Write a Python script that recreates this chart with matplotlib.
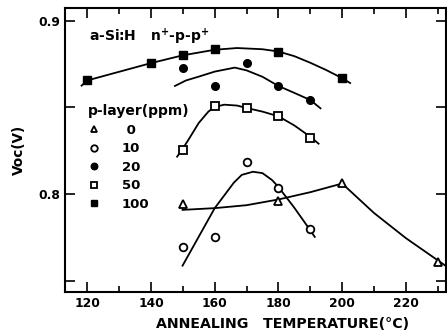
import matplotlib.pyplot as plt
from matplotlib.ticker import MultipleLocator

plt.rcParams["font.family"] = "DejaVu Sans"
plt.rcParams["font.weight"] = "bold"

# measured points, by p-layer doping (ppm)
t_0 = [150, 180, 200, 230]
v_0 = [0.7942, 0.7960, 0.8062, 0.7610]
t_10 = [150, 160, 170, 180, 190]
v_10 = [0.7696, 0.7750, 0.8183, 0.8037, 0.7796]
t_20 = [150, 160, 170, 180, 190]
v_20 = [0.8729, 0.8623, 0.8754, 0.8623, 0.8542]
t_50 = [150, 160, 170, 180, 190]
v_50 = [0.8254, 0.8508, 0.8494, 0.8450, 0.8321]
t_100 = [120, 140, 150, 160, 180, 200]
v_100 = [0.8658, 0.8758, 0.8800, 0.8835, 0.8821, 0.8671]

# hand-drawn guide curves
ct_0 = [149.9, 160, 170, 180, 190, 200, 210, 220, 232.5]
cv_0 = [0.7908, 0.7918, 0.7935, 0.7968, 0.8010, 0.8060, 0.7890, 0.7745, 0.7585]
ct_10 = [149.9, 160, 166, 168.5, 172, 175, 178, 180, 185, 190, 191.4]
cv_10 = [0.7586, 0.7918, 0.8065, 0.8110, 0.8128, 0.8120, 0.8080, 0.8040, 0.7920, 0.7790, 0.7752]
ct_20 = [147.5, 151, 155, 160, 166.3, 170, 175, 180, 185, 190, 193.2]
cv_20 = [0.8623, 0.8655, 0.8677, 0.8706, 0.8729, 0.8713, 0.8676, 0.8623, 0.8583, 0.8542, 0.8494]
ct_50 = [148.2, 150, 152, 155, 158, 160, 163, 167, 170, 175, 180, 185, 190, 192.6]
cv_50 = [0.8215, 0.8262, 0.8320, 0.8410, 0.8475, 0.8502, 0.8515, 0.8510, 0.8496, 0.8475, 0.8448, 0.8395, 0.8330, 0.8290]
ct_100 = [118.2, 120, 130, 140, 150, 160, 167, 175, 180, 185, 190, 195, 200, 202.5]
cv_100 = [0.8625, 0.8655, 0.8705, 0.8755, 0.8800, 0.8832, 0.8842, 0.8835, 0.8822, 0.8795, 0.8757, 0.8715, 0.8668, 0.8640]

fig = plt.figure(figsize=(4.47, 3.35), dpi=100)
ax = fig.add_axes([65 / 447, 43 / 335, 381 / 447, 284 / 335])

for ct, cv in [(ct_0, cv_0), (ct_10, cv_10), (ct_20, cv_20), (ct_50, cv_50), (ct_100, cv_100)]:
    ax.plot(ct, cv, color="black", lw=1.3, zorder=2)

ms = 5.5
h0, = ax.plot(t_0, v_0, ls="none", marker="^", ms=ms, mfc="white", mec="black", mew=1.3, label=" 0", zorder=3)
h10, = ax.plot(t_10, v_10, ls="none", marker="o", ms=ms, mfc="white", mec="black", mew=1.3, label="10", zorder=3)
h20, = ax.plot(t_20, v_20, ls="none", marker="o", ms=ms, mfc="black", mec="black", label="20", zorder=3)
h50, = ax.plot(t_50, v_50, ls="none", marker="s", ms=ms, mfc="white", mec="black", mew=1.3, label="50", zorder=3)
h100, = ax.plot(t_100, v_100, ls="none", marker="s", ms=ms, mfc="black", mec="black", label="100", zorder=3)

ax.set_xlim(113, 232.6)
ax.set_ylim(0.7434, 0.9073)
ax.xaxis.set_major_locator(MultipleLocator(20))
ax.xaxis.set_minor_locator(MultipleLocator(10))
ax.yaxis.set_major_locator(MultipleLocator(0.1))
ax.yaxis.set_minor_locator(MultipleLocator(0.05))
ax.tick_params(which="both", direction="in", top=True, right=True, width=1.2, labelsize=8.8)
ax.tick_params(which="major", length=7)
ax.tick_params(which="minor", length=4)
ax.tick_params(axis="y", which="minor", length=7)
ax.set_xticks([120, 140, 160, 180, 200, 220])
ax.set_yticks([0.8, 0.9])
ax.set_yticklabels(["0.8", "0.9"])
for s in ax.spines.values():
    s.set_linewidth(1.5)

ax.set_xlabel("ANNEALING   TEMPERATURE(°C)", fontsize=10.2, fontweight="bold", x=0.57, labelpad=5)
ax.set_ylabel("Voc(V)", fontsize=9.8, fontweight="bold", labelpad=9)

ax.text(120.5, 0.8906, "a-Si:H   n$^{+}$-p-p$^{+}$", fontsize=10, fontweight="bold", va="center")

leg = ax.legend(handles=[h0, h10, h20, h50, h100], title="p-layer(ppm)", loc="upper left",
                bbox_to_anchor=(0.045, 0.68), frameon=False, fontsize=9.5,
                title_fontsize=10, markerscale=0.85, handlelength=1.0,
                handletextpad=1.6, labelspacing=0.42, borderaxespad=0)
leg._legend_box.align = "left"
leg.get_title().set_fontweight("bold")

fig.savefig("out.png", dpi=100)
